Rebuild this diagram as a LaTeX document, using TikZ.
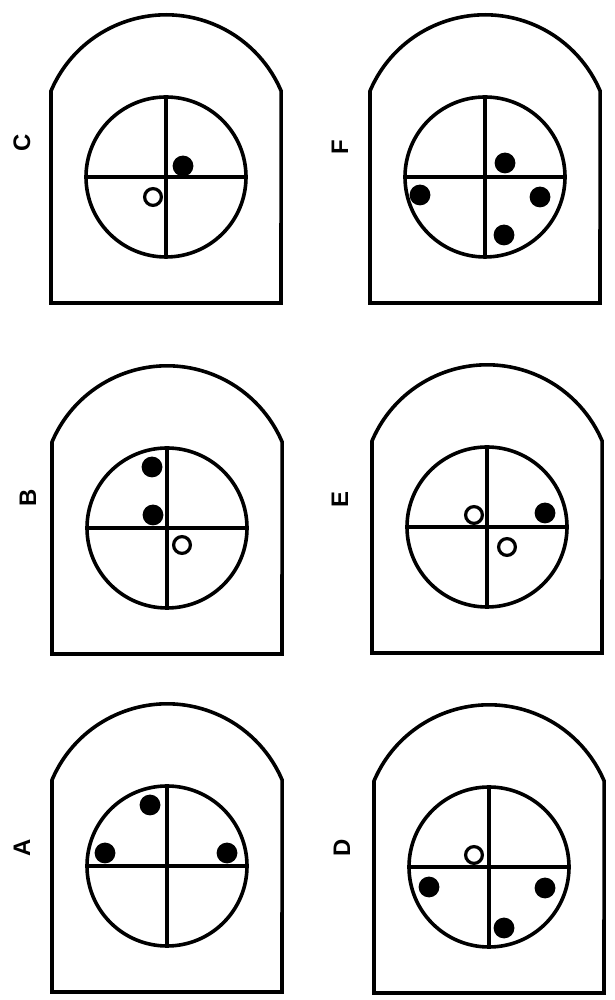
\documentclass[tikz,border=0pt]{standalone}
\usepackage{fontspec}
\setsansfont{Liberation Sans}
\usetikzlibrary{positioning}

\begin{document}
\begin{tikzpicture}[
    x=0.025cm, y=0.025cm,
    frame/.style={draw, line width=0.09cm, line join=miter},
    dot/.style={circle, fill=black, inner sep=0pt, minimum size=0.52cm},
    ring/.style={circle, draw, line width=0.08cm, inner sep=0pt, minimum size=0.42cm},
    tag/.style={rotate=90, inner sep=0pt, font=\sffamily\bfseries\fontsize{17}{20}\selectfont},
    dial/.pic={
      \draw[frame] (-115,-126) -- (-115,86) arc[start angle=157, end angle=23, radius=125] -- (115,-126) -- cycle;
      \draw[frame] (0,0) circle[radius=80];
      \draw[frame] (-80,0) -- (80,0) (0,-80) -- (0,80);
    }
  ]
  \useasboundingbox (0,0) rectangle (614,1000);

  % top row
  \begin{scope}[shift={(166,823)}]
    \pic {dial};
    \node[tag] (tagc) at (-144,34) {C};
    \node[dot] (c1) at (17,11) {};
    \node[ring] (c2) at (-13,-20) {};
  \end{scope}
  \begin{scope}[shift={(485,823)}]
    \pic {dial};
    \node[tag] (tagf) at (-145,30) {F};
    \node[dot] (f1) at (20,14) {};
    \node[dot] (f2) at (-65,-18) {};
    \node[dot] (f3) at (55,-20) {};
    \node[dot] (f4) at (19,-58) {};
  \end{scope}

  % middle row
  \begin{scope}[shift={(167,472)}]
    \pic {dial};
    \node[tag] (tagb) at (-139,30) {B};
    \node[dot] (b1) at (-15,61) {};
    \node[dot] (b2) at (-14,13) {};
    \node[ring] (b3) at (15,-17) {};
  \end{scope}
  \begin{scope}[shift={(487,473)}]
    \pic {dial};
    \node[tag] (tage) at (-147,27) {E};
    \node[ring] (e1) at (-13,12) {};
    \node[ring] (e2) at (20,-20) {};
    \node[dot] (e3) at (58,14) {};
  \end{scope}

  % bottom row
  \begin{scope}[shift={(167,134)}]
    \pic {dial};
    \node[tag] (taga) at (-145,18) {A};
    \node[dot] (a1) at (-17,61) {};
    \node[dot] (a2) at (-62,13) {};
    \node[dot] (a3) at (60,13) {};
  \end{scope}
  \begin{scope}[shift={(489,133)}]
    \pic {dial};
    \node[tag] (tagd) at (-147,19) {D};
    \node[ring] (d1) at (-15,12) {};
    \node[dot] (d2) at (-60,-20) {};
    \node[dot] (d3) at (56,-21) {};
    \node[dot] (d4) at (15,-61) {};
  \end{scope}
\end{tikzpicture}
\end{document}
